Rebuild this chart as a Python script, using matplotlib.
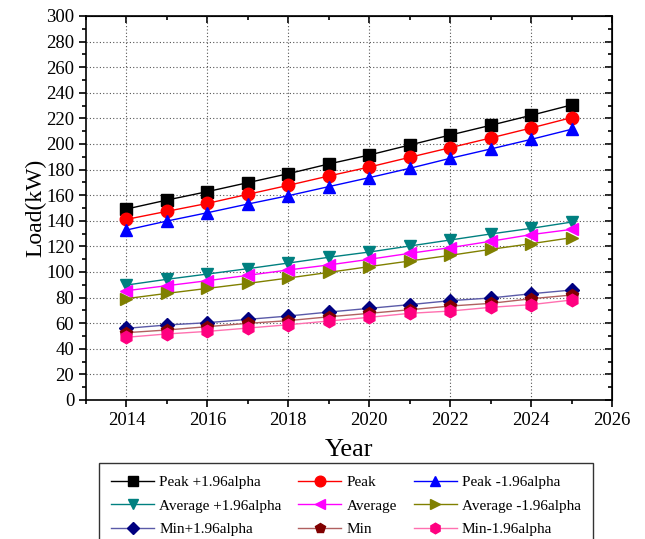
import matplotlib
matplotlib.use("Agg")
import matplotlib.pyplot as plt
from matplotlib.ticker import MultipleLocator

plt.rcParams['font.family'] = ['Liberation Serif', 'DejaVu Serif']

years = [2014, 2015, 2016, 2017, 2018, 2019, 2020, 2021, 2022, 2023, 2024, 2025]

# values
peak_hi = [149.2, 156.2, 162.8, 169.8, 176.8, 184.4, 191.4, 199.2, 207.0, 214.6, 222.4, 230.5]
peak = [141.1, 147.4, 153.6, 160.7, 167.7, 175.0, 182.0, 189.6, 197.1, 204.7, 212.5, 220.6]
peak_lo = [132.8, 139.8, 146.3, 153.1, 159.6, 166.7, 173.7, 181.0, 188.8, 196.1, 203.6, 211.5]
avg_hi = [89.8, 94.3, 98.4, 102.6, 107.0, 111.5, 115.6, 120.3, 125.0, 129.7, 134.1, 139.0]
avg = [85.4, 89.3, 93.2, 97.4, 101.6, 105.5, 109.9, 114.6, 119.0, 124.0, 129.2, 133.3]
avg_lo = [79.2, 83.3, 87.2, 91.1, 95.3, 99.7, 104.2, 108.6, 113.0, 117.7, 122.1, 126.8]
min_hi = [56.0, 58.6, 60.4, 63.0, 65.6, 68.7, 71.6, 74.5, 77.6, 79.7, 83.0, 85.9]
min_mid = [52.6, 54.7, 57.3, 59.9, 62.0, 65.0, 67.7, 70.5, 73.4, 75.5, 79.1, 82.0]
min_lo = [49.0, 51.6, 53.6, 56.2, 58.8, 61.7, 64.6, 67.7, 69.5, 72.4, 74.5, 78.1]

series = [
    ("Peak +1.96alpha", peak_hi, 's', 'black', 'black', 8),
    ("Peak", peak, 'o', 'red', 'red', 9),
    ("Peak -1.96alpha", peak_lo, '^', 'blue', 'blue', 9),
    ("Average +1.96alpha", avg_hi, 'v', '#008080', '#008080', 9),
    ("Average", avg, '<', 'magenta', 'magenta', 9),
    ("Average -1.96alpha", avg_lo, '>', '#808000', '#808000', 9),
    ("Min+1.96alpha", min_hi, 'D', '#000080', '#5a5aa8', 7.5),
    ("Min", min_mid, 'p', '#800000', '#b06060', 9),
    ("Min-1.96alpha", min_lo, 'h', '#ff0080', '#ff70b0', 9),
]

fig = plt.figure(figsize=(6.45, 5.39), dpi=100)
ax = fig.add_axes([86 / 645, 1 - 400 / 539, (612 - 86) / 645, (400 - 16) / 539])

lines = []
for label, vals, mk, mcol, lcol, ms in series:
    ln, = ax.plot(years, vals, color=lcol, lw=1.0, marker=mk, ms=ms,
                  markerfacecolor=mcol, markeredgecolor=mcol, label=label)
    lines.append(ln)

ax.set_xlim(2013, 2026)
ax.set_ylim(0, 300)
ax.xaxis.set_major_locator(MultipleLocator(2))
ax.xaxis.set_minor_locator(MultipleLocator(1))
ax.yaxis.set_major_locator(MultipleLocator(20))
ax.yaxis.set_minor_locator(MultipleLocator(10))

ax.grid(True, which='major', linestyle=(0, (1, 2)), color='#555555', lw=0.8)

ax.tick_params(which='both', direction='out', top=False, right=False, width=1.2, labelsize=13.5)
ax.tick_params(which='major', length=5)
ax.tick_params(which='minor', length=3)

# inward ticks on top and right edges
axt = ax.secondary_xaxis('top')
axt.xaxis.set_major_locator(MultipleLocator(2))
axt.xaxis.set_minor_locator(MultipleLocator(1))
axt.tick_params(which='both', direction='in', labeltop=False, width=1.2)
axt.tick_params(which='major', length=5)
axt.tick_params(which='minor', length=3)
axr = ax.secondary_yaxis('right')
axr.yaxis.set_major_locator(MultipleLocator(20))
axr.yaxis.set_minor_locator(MultipleLocator(10))
axr.tick_params(which='both', direction='in', labelright=False, width=1.2)
axr.tick_params(which='major', length=5)
axr.tick_params(which='minor', length=3)

for sp in ax.spines.values():
    sp.set_linewidth(1.2)

ax.set_xlabel("Year", fontsize=19, labelpad=7)
ax.set_ylabel("Load(kW)", fontsize=17, labelpad=0)

# legend fills column-wise, so reorder to read row by row
order = [0, 3, 6, 1, 4, 7, 2, 5, 8]
leg = fig.legend([lines[i] for i in order], [series[i][0] for i in order],
                 loc='upper center', bbox_to_anchor=(346 / 645, 1 - 463 / 539),
                 borderaxespad=0, ncol=3, fontsize=11, frameon=True, fancybox=False,
                 edgecolor='black', handlelength=2.8, columnspacing=1.1,
                 borderpad=0.8, labelspacing=0.65, handletextpad=0.35,
                 markerscale=0.85)
leg.get_frame().set_linewidth(1.0)

fig.savefig("out.png", dpi=100)
